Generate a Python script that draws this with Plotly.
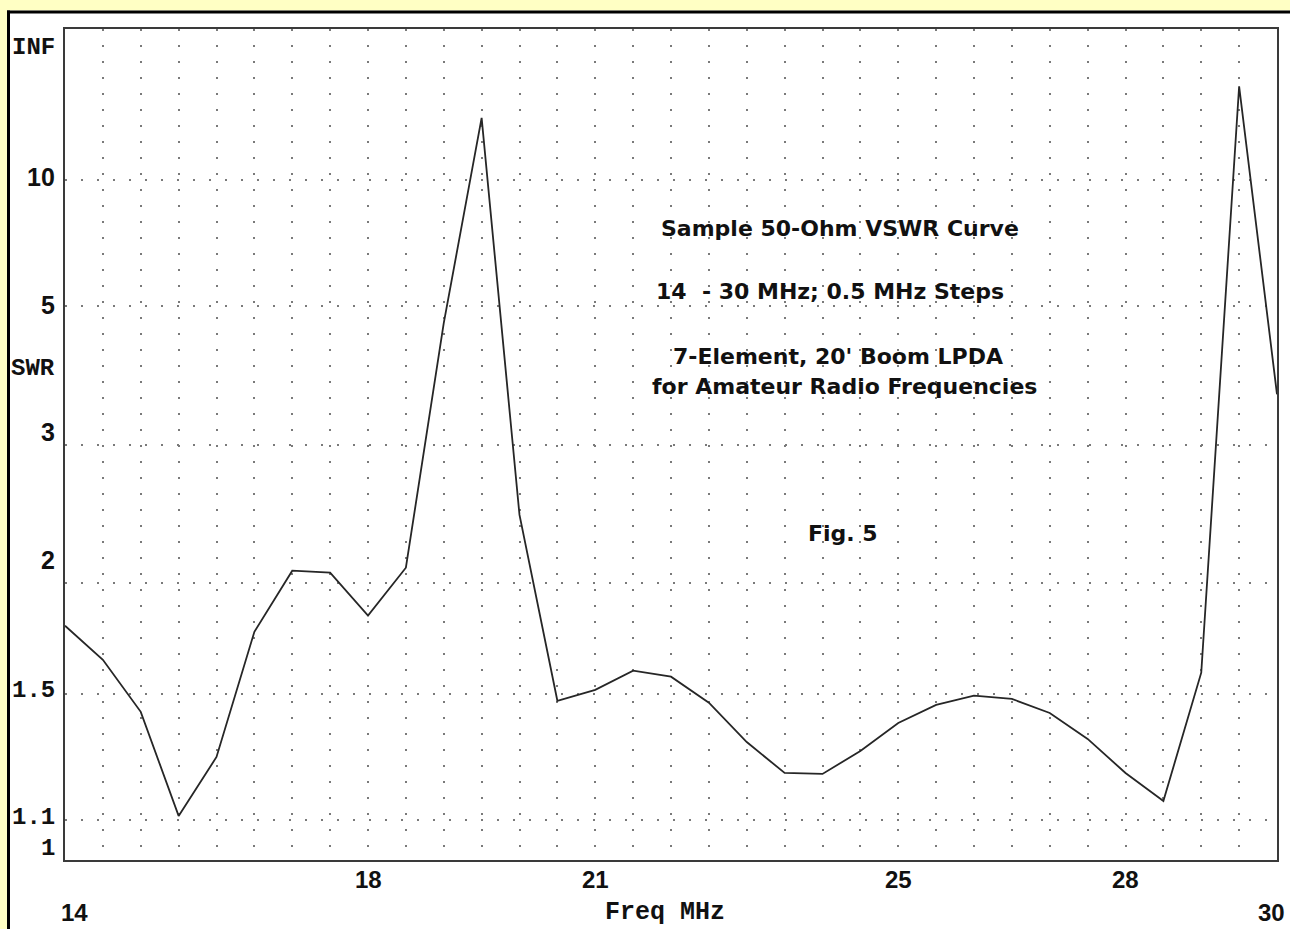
import plotly.graph_objects as go

# ---- data ----
freq_mhz = [14.0, 14.5, 15.0, 15.5, 16.0, 16.5, 17.0, 17.5, 18.0, 18.5, 19.0, 19.5,
            20.0, 20.5, 21.0, 21.5, 22.0, 22.5, 23.0, 23.5, 24.0, 24.5, 25.0, 25.5,
            26.0, 26.5, 27.0, 27.5, 28.0, 28.5, 29.0, 29.5, 30.0]
swr = [1.785, 1.635, 1.434, 1.112, 1.283, 1.757, 2.068, 2.057, 1.833, 2.085, 4.65, 17.7,
       2.42, 1.474, 1.515, 1.590, 1.566, 1.467, 1.331, 1.234, 1.231, 1.302, 1.395, 1.459,
       1.493, 1.481, 1.430, 1.341, 1.234, 1.153, 1.582, 28.0, 3.55]
grid_swr = [1.1, 1.5, 2, 3, 5, 10]
x_tick_vals = [18, 21, 25, 28]
y_label_text = ["INF", "10", "5", "SWR", "3", "2", "1.5", "1.1", "1"]
title_lines = ["Sample 50-Ohm VSWR Curve",
               "14\u00a0\u00a0- 30 MHz; 0.5 MHz Steps",
               "7-Element, 20' Boom LPDA",
               "for Amateur Radio Frequencies",
               "Fig. 5"]


def rho(s):
    # reflection-coefficient scale used by the SWR axis
    return (s - 1.0) / (s + 1.0)


# ---- layout geometry (pixels) ----
W, H = 1290, 929
L, R, T, B = 65, 1277, 29, 860


def px(xp):
    return (xp - L) / (R - L)


def py(yp):
    return (B - yp) / (B - T)


fig = go.Figure()
fig.add_trace(go.Scatter(
    x=freq_mhz, y=[rho(s) for s in swr], mode="lines",
    line=dict(color="#262626", width=1.8), hoverinfo="x+y", showlegend=False))

grid_kw = dict(showgrid=True, gridcolor="#7a7a7a", gridwidth=2, griddash="2px,14px",
               zeroline=False, showticklabels=False, ticks="",
               showline=True, linecolor="#3a3a3a", linewidth=2, mirror=True)

fig.update_xaxes(range=[14, 30], tickmode="linear", tick0=14, dtick=0.5, **grid_kw)
fig.update_yaxes(range=[0, 1], tickmode="array", tickvals=[rho(s) for s in grid_swr], **grid_kw)

ann = []
sans = "Liberation Sans, Arial, sans-serif"
mono = "Liberation Mono, Courier New, monospace"
title_font = "DejaVu Sans, Verdana, sans-serif"

# y-axis labels (right aligned at x=57 px)
y_label_px = [48, 177, 305, 368, 432, 560, 690, 817, 848]
y_label_font = [mono, sans, sans, mono, sans, sans, mono, mono, mono]
for txt, yp, fnt in zip(y_label_text, y_label_px, y_label_font):
    ann.append(dict(x=px(57), y=py(yp), xref="paper", yref="paper", text="<b>%s</b>" % txt,
                    showarrow=False, xanchor="right", yanchor="middle",
                    font=dict(family=fnt, size=25 if fnt == sans else 24, color="#111")))

# x-axis labels
for v in x_tick_vals:
    ann.append(dict(x=v, y=py(879), xref="x", yref="paper", text="<b>%d</b>" % v,
                    showarrow=False, xanchor="center", yanchor="middle",
                    font=dict(family=sans, size=24, color="#111")))
ann.append(dict(x=px(74), y=py(912), xref="paper", yref="paper", text="<b>14</b>",
                showarrow=False, xanchor="center", yanchor="middle",
                font=dict(family=sans, size=24, color="#111")))
ann.append(dict(x=px(1271), y=py(912), xref="paper", yref="paper", text="<b>30</b>",
                showarrow=False, xanchor="center", yanchor="middle",
                font=dict(family=sans, size=24, color="#111")))
ann.append(dict(x=px(665), y=py(912), xref="paper", yref="paper", text="<b>Freq MHz</b>",
                showarrow=False, xanchor="center", yanchor="middle",
                font=dict(family=mono, size=25, color="#111")))

# text block inside the plot
title_pos = [(840, 228), (830, 291), (838, 356), (844, 386), (843, 533)]
for txt, (xp, yp) in zip(title_lines, title_pos):
    ann.append(dict(x=px(xp), y=py(yp), xref="paper", yref="paper", text="<b>%s</b>" % txt,
                    showarrow=False, xanchor="center", yanchor="middle",
                    font=dict(family=title_font, size=22, color="#111")))

yellow = "#ffffc4"
shapes = [
    dict(type="rect", xref="paper", yref="paper", x0=px(-5), x1=px(W + 5), y0=py(10.5), y1=py(-5),
         fillcolor=yellow, line=dict(width=0), layer="below"),
    dict(type="rect", xref="paper", yref="paper", x0=px(-5), x1=px(7), y0=py(H + 5), y1=py(-5),
         fillcolor=yellow, line=dict(width=0), layer="below"),
    dict(type="rect", xref="paper", yref="paper", x0=px(7), x1=px(W + 5), y0=py(13.5), y1=py(10.5),
         fillcolor="#000", line=dict(width=0), layer="below"),
    dict(type="rect", xref="paper", yref="paper", x0=px(7), x1=px(10), y0=py(H + 5), y1=py(10.5),
         fillcolor="#000", line=dict(width=0), layer="below"),
]

fig.update_layout(
    width=W, height=H, autosize=False,
    margin=dict(l=L, r=W - R, t=T, b=H - B, pad=0),
    paper_bgcolor="white", plot_bgcolor="white",
    annotations=ann, shapes=shapes, showlegend=False,
)

fig.write_html("out.html", config={"displayModeBar": False},
               post_script="document.body.style.margin='0';document.body.style.overflow='hidden';")
